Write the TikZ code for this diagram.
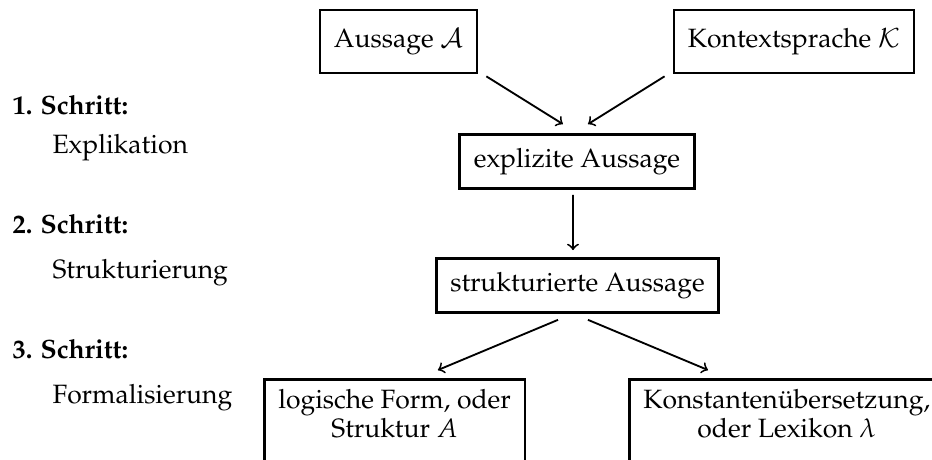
\documentclass[tikz,border=0pt]{standalone}
\usepackage[T1]{fontenc}
\usepackage{mathpazo}
\usepackage{amsmath}
\usepackage{tikz}

\begin{document}
\begin{tikzpicture}[
  x=0.3774pt, y=-0.3774pt,
  box/.style={draw, line width=1pt, inner xsep=5.3pt, align=center},
  topbox/.style={box, minimum height=23.8pt},
  midbox/.style={box, minimum height=20.4pt},
  lowbox/.style={box, anchor=north west, inner ysep=3.8pt, text depth=17pt, font=\fontsize{10}{11}\selectfont},
  schritt/.style={anchor=base west, inner sep=0pt, font=\bfseries},
  phase/.style={anchor=base west, inner sep=0pt},
  arrow/.style={->, line width=0.7pt}
]
\useasboundingbox (0,0) rectangle (932,459);

% Schritte links
\node[schritt] (s1) at (12,114) {1. Schritt:};
\node[phase] (p1) at (52,153) {Explikation};
\node[schritt] (s2) at (12,233) {2. Schritt:};
\node[phase] (p2) at (52,278) {Strukturierung};
\node[schritt] (s3) at (12,358) {3. Schritt:};
\node[phase] (p3) at (52,403) {Formalisierung};

% Aussagen
\node[topbox] (aussage) at (398.5,41.5) {Aussage $\mathcal{A}$};
\node[topbox] (kontext) at (794,41.5) {Kontextsprache $\mathcal{K}$};
\node[midbox] (explizit) at (577,161.5) {explizite Aussage};
\node[midbox] (struktur) at (577.5,285.5) {strukturierte Aussage};
\node[lowbox] (logik) at (263,378) {logische Form, oder\\ Struktur $A$};
\node[lowbox] (lexikon) at (628,378) {Konstanten\"ubersetzung,\\ oder Lexikon $\lambda$};

\draw[arrow] ([xshift=3pt, yshift=-0.75pt]aussage.south east) -- ([xshift=-5.3pt, yshift=3.4pt]explizit.north);
\draw[arrow] ([xshift=-3pt, yshift=-0.75pt]kontext.south west) -- ([xshift=4.15pt, yshift=3.4pt]explizit.north);
\draw[arrow] ([xshift=-1.5pt, yshift=-1.9pt]explizit.south) -- ([xshift=-1.7pt, yshift=2.65pt]struktur.north);
\draw[arrow] ([xshift=-7.36pt, yshift=-2.26pt]struktur.south) -- ([xshift=66pt, yshift=3pt]logik.north west);
\draw[arrow] ([xshift=3.96pt, yshift=-2.26pt]struktur.south) -- ([xshift=30.2pt, yshift=3pt]lexikon.north west);
\end{tikzpicture}
\end{document}
